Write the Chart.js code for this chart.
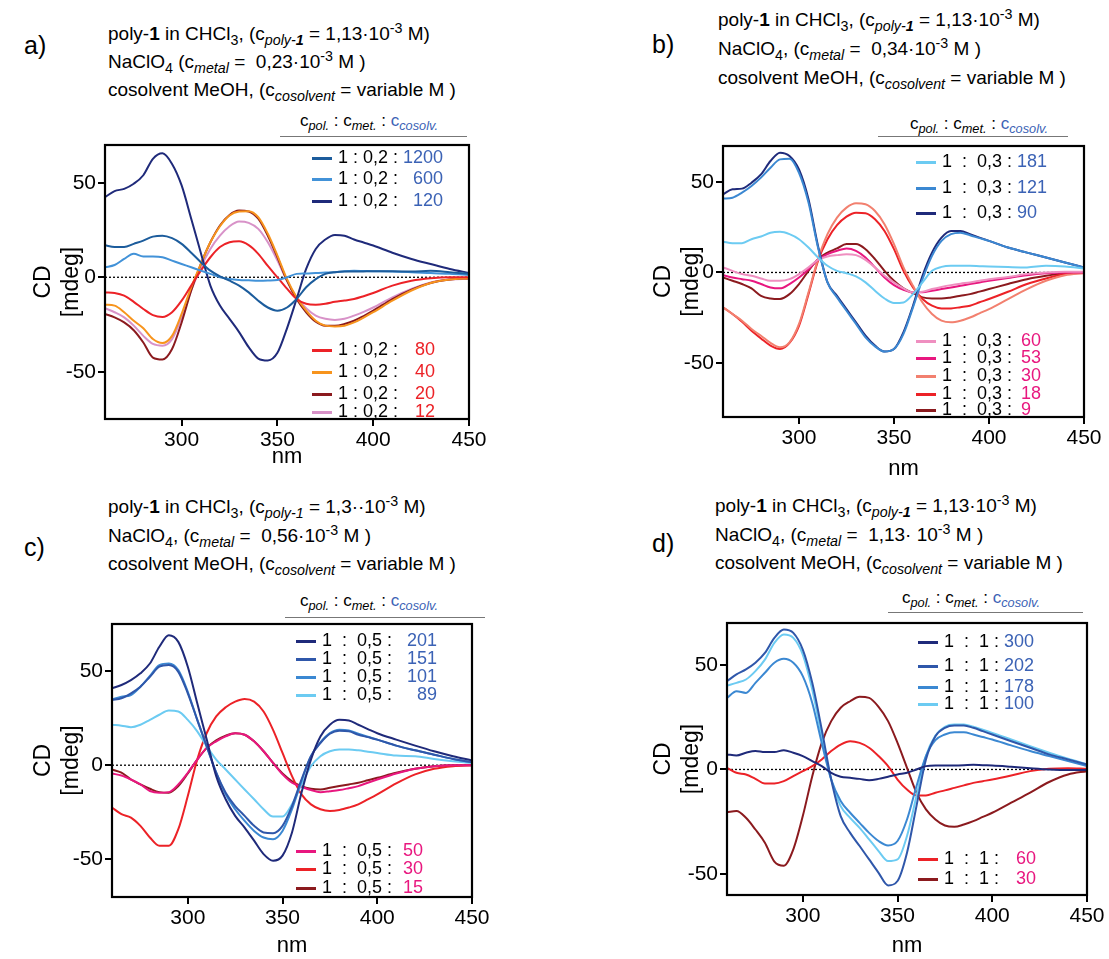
<!DOCTYPE html>
<html>
<head>
<meta charset="utf-8">
<script src="https://cdn.jsdelivr.net/npm/chart.js@4.4.1/dist/chart.umd.min.js"></script>
<style>
body { margin: 0; background: #fff; font-family: "Liberation Sans", Arial, sans-serif; color: #000; }
#page { position: relative; width: 1109px; height: 959px; overflow: hidden; }
canvas { position: absolute; }
.t { position: absolute; white-space: nowrap; font-size: 19px; line-height: 22px; }
.t sub, .t sup { font-size: 0.75em; line-height: 0; }
.lab { position: absolute; font-size: 25px; line-height: 28px; }
.rule { position: absolute; height: 0; border-top: 1.5px solid #777; }
.lg { position: absolute; font-size: 18px; white-space: nowrap; line-height: 18px; }
.lg i { display: inline-block; width: 20px; height: 2.5px; vertical-align: middle; margin-right: 6px; }
.lg span { display: inline-block; }
.blue { color: #3b62b5; }
</style>
</head>
<body>
<div id="page"></div>
<script>
// wavelength grid (nm), shared by all panels
const wl = [260,265,270,275,280,285,290,295,300,305,310,315,320,325,330,335,340,345,350,355,360,365,370,375,380,385,390,395,400,410,420,430,440,450];
const xTicks = [300, 350, 400, 450];
const yTicks = [-50, 0, 50];

// a) 1 : 0,2 : x
const aRatio = '1 : 0,2 :';
const aLabels = ['1200', '600', '120', '80', '40', '20', '12'];
const aColors = ['#1c5c9c', '#4292d8', '#1f2a7a', '#ec2227', '#f7941d', '#8b1a1e', '#d892c8'];
const a1200 = [17,16,16,17.7,19.4,21.5,22,20.7,17.7,13,8,3.5,0.5,-1.8,-4.4,-8,-12.4,-16,-17.7,-16,-11.5,-5.3,-1,1.8,2.7,3,3,3.1,3.2,3.2,3,3.4,2.7,1.8];
const a600 = [5.3,6.5,9.7,12.4,11,11,10.6,8.8,7,5.3,3.5,1.8,0,-0.9,-1.4,-1.6,-1.8,-1.7,-1.4,0,1.8,2,2.3,2.5,2.7,3.2,3.4,3.3,3.2,3,2.7,2.2,1.8,1.2];
const a120 = [42.4,45.6,46.8,49.5,54,62.7,65.6,60,48.6,31,13,-4.4,-15,-22,-29,-37,-43,-44,-40,-27,-11.5,4.4,15,20,22.4,22,20,18.4,16.8,13,9.7,7,4.4,2.3];
const a80 = [-8,-8.3,-9.7,-13,-16.8,-20,-21,-18.5,-12.4,-4.4,3.5,10.6,16,18.5,19,17,12.4,6,0,-6,-11.5,-14,-14.5,-14,-13,-12.3,-11.5,-10,-8.3,-4.4,-1.8,-0.5,0,0];
const a40 = [-14.5,-15,-18.5,-23,-27,-32.7,-34.8,-31,-19.4,-5.3,7,18.5,27,32.7,34.8,35,31.8,23,11.5,-1,-10.6,-17.7,-23,-25.6,-26,-25.6,-23.9,-21.3,-18.5,-12.4,-7,-3,-1.2,-0.5];
const a20 = [-19.4,-21.2,-23.9,-28,-34.5,-42.5,-43.5,-38,-23.9,-7,7,18.5,27.4,33,35.3,34.8,31,22,10.6,-1.8,-11.5,-18.5,-23.5,-25.6,-25.6,-24.7,-23,-20.5,-17.7,-11.5,-6.5,-3,-1.2,-0.5];
const a12 = [-16.4,-18.5,-21.2,-25.6,-31,-35.3,-36.2,-32.7,-21.2,-7,5.3,15,22,27,29.5,28.8,25.6,18.5,8.8,-1.8,-10.6,-16.4,-20.3,-22,-22.6,-22,-20.3,-18.3,-16,-10.6,-6.2,-2.7,-1.2,-0.9];

// b) 1 : 0,3 : x
const bRatio = '1 &nbsp;:&nbsp; 0,3 :';
const bLabels = ['181', '121', '90', '60', '53', '30', '18', '9'];
const bColors = ['#6ccbf2', '#3b88d2', '#1f2a7a', '#ef8fc0', '#e8177f', '#f2806f', '#ec2227', '#8b1a1e'];
const b181 = [17,16.2,16.2,18.4,19.9,22,22.5,21.2,18.4,13.8,8.3,3.7,0.9,-0.4,-2.2,-5.5,-10.1,-14.4,-16.9,-16.6,-12,-5.5,0.9,3.1,3.7,3.7,3.7,3.5,3.3,3,2.8,3.7,3.3,2.2];
const b121 = [40.9,41.4,44.2,47.9,52.5,58,62.6,63,55.2,38.7,13.8,-5.5,-13.8,-21.2,-28.5,-35.9,-40.9,-43.8,-42.4,-34,-19.3,-3.7,9.2,17.5,21.2,22,20.6,19,17.5,13.8,11,8.3,5.5,2.8];
const b90 = [43.3,46,46.4,49.7,54.3,61.7,66.3,64.5,57,40.5,14.7,-5.5,-12.9,-20.3,-27.6,-35,-40.5,-43.8,-42.4,-33,-18.4,-1.8,11,19.3,23,23,21.2,19.3,17.5,13.8,11,8.3,5.5,2.8];
const b60 = [2.8,0.9,-0.9,-1.8,-3.3,-4.6,-4.6,-3.7,-0.9,2.8,7,8.8,9.6,10.1,9.6,7,2.8,-1.8,-5.5,-8.8,-11,-10.7,-9.2,-8,-7,-6.2,-5.5,-4.6,-3.7,-2.5,-0.9,0,0.4,0.4];
const b53 = [-1.5,-2.8,-3.7,-4.6,-6.4,-8.3,-8.8,-6.4,-2.8,1.8,7,10.1,12,13.3,12,8.3,2.8,-2.8,-7,-9.6,-11,-11,-10.1,-9.2,-8.3,-7.4,-6.4,-5.5,-4.6,-3,-1.5,-0.5,0,0];
const b30 = [-19.3,-23,-26.7,-31.3,-35,-39,-41.4,-38.7,-28.5,-11,7.4,21.2,30.4,35.9,38.3,37.8,34,26.7,15.7,2.8,-7.4,-16.6,-23,-26.7,-27.6,-26.7,-24.9,-22.6,-20.3,-14.7,-9.2,-4.6,-1.5,-0.4];
const b18 = [-19.3,-23,-27.3,-32.2,-36.5,-40.5,-42.4,-39,-29.5,-12,6.4,18.4,26.2,30.9,33.1,32.8,29.5,23,12.9,0.9,-8.3,-14.7,-18.4,-19.9,-19.9,-19.2,-18.4,-16.5,-14.7,-10.7,-6.4,-3.3,-0.9,0];
const b9 = [-2.8,-4.6,-6.4,-8.8,-12.9,-14.4,-14.7,-12,-6.4,0.9,7.4,11,13.3,15.7,15.7,12.9,7.4,0.9,-4.6,-8.8,-11.4,-13.8,-14.4,-14.4,-13.8,-12.9,-12,-10.6,-9.2,-6.4,-3.7,-1.8,-0.4,0];

// c) 1 : 0,5 : x
const cRatio = '1 &nbsp;:&nbsp; 0,5 :';
const cLabels = ['201', '151', '101', '89', '50', '30', '15'];
const cColors = ['#1f2a7a', '#2f57aa', '#3b88d2', '#6ccbf2', '#e8177f', '#ec2227', '#8b1a1e'];
const c201 = [40.8,42.6,45.2,48.8,54,62.9,69,65.5,52.3,32.9,13.6,-5.8,-18.1,-26.9,-33.1,-40.1,-47.2,-50.7,-48,-35.7,-14.6,3,15.3,21.5,24.1,23.8,21.5,19.2,17,13.6,10.4,7.4,4.8,2.5];
const c151 = [34.7,35.6,38.2,41.7,47,52.3,53.2,49.6,38.2,24.1,10,-4,-14.6,-21.7,-26.9,-32.2,-35.7,-36.1,-32.2,-21.7,-7.6,4.8,11.8,16.7,18.3,18,16.2,14.9,13.6,10.4,7.9,5.6,3.3,1.6];
const c101 = [35,36.4,37.3,41.7,47.4,53.2,54,50.5,39,24.1,10,-4,-15.5,-23.4,-29.6,-34.9,-38.4,-39.3,-34.9,-23.4,-8.5,4.8,12.1,17,18.8,18.5,16.7,15.1,13.6,10.4,7.9,5.6,3.3,1.6];
const c89 = [21.5,21,20.2,21.5,24.1,26.8,29,28.5,24.1,18,10,3,-2.3,-7.6,-12.9,-18.1,-23.4,-27.3,-27.3,-20.8,-10.2,-0.5,4.8,7.4,8.3,8.3,7.9,7.2,6.5,5.1,4.8,3.3,2.1,1.2];
const c50 = [-4.4,-5.5,-7.6,-10.2,-13.7,-14.6,-14.3,-10.2,-4,3,9.2,12.7,15.3,17,16.2,12.7,7.4,1.2,-4.9,-9.3,-11.4,-13.2,-14.3,-13.8,-13.2,-12.2,-11.1,-9.3,-7.6,-4.4,-1.9,-0.5,0,0];
const c30 = [-22.5,-26,-27.8,-32.2,-38.4,-42.8,-42.8,-34,-16.4,3,17.1,25.9,30.8,33.8,35.2,33.8,28.5,18.8,6.5,-5.8,-15.5,-20.8,-23.4,-24.3,-23.8,-22.5,-20.8,-18.2,-15.5,-9.7,-4.9,-1.9,-0.5,0];
const c15 = [-2.3,-4,-7.6,-10.2,-12.5,-14.3,-14.6,-11.1,-4.4,3,9.2,13.2,15.7,17,16.2,12.7,7.4,1.2,-4.4,-8.5,-11.1,-12.5,-12.9,-12,-11.1,-10.2,-9.3,-8,-6.7,-4,-1.9,-0.5,0,0];

// d) 1 : 1 : x
const dRatio = '1 &nbsp;:&nbsp; 1 :';
const dLabels = ['300', '202', '178', '100', '60', '30'];
const dColors = ['#1f2a7a', '#2f57aa', '#3b88d2', '#6ccbf2', '#ec2227', '#8b1a1e'];
const d300 = [7.2,6.7,8,8.8,8.3,8.3,9.2,8,6.4,4,1.6,-1.6,-3.5,-4,-4.5,-5.1,-4.5,-3.5,-2.4,-1.6,0,1.6,1.9,1.9,1.9,2,2.2,2,1.9,1.3,0.6,0,-0.3,-0.3];
const d202 = [42.2,45.4,47.8,51,55.7,62.9,66.9,65.3,57.3,41.4,19.1,-4.8,-22.3,-30.3,-36.6,-43,-49.4,-55.4,-53.3,-39.8,-17.5,4.8,15.9,19.9,21,21,19.9,18.3,16.7,13.5,10.4,7.2,4.8,2.4];
const d178 = [34.2,37.4,36.6,41.4,46.2,51,52.9,51,44.6,31.8,12.7,-4.8,-15.1,-20.7,-25.5,-30.3,-34.2,-36.3,-34.2,-23.9,-8,6.4,14,16.7,17.8,17.8,16.7,15.5,14.3,11.5,8.8,6.4,4,1.6];
const d100 = [40.1,41.4,43,47,52.5,60.5,64.5,62.9,54.9,38.2,15.9,-4.8,-17.5,-23.1,-27.9,-33.4,-39,-43.8,-43,-31.8,-12.7,6.4,16.2,20.4,21.5,21.5,20.4,19,17.5,14.3,11.1,8,5.1,2.4];
const d60 = [0.8,-1.6,-2.4,-4.5,-6.7,-6.7,-5.6,-3.2,-0.8,1.6,4.8,8.8,11.9,13.5,12.7,10.4,6.4,1.6,-4.8,-9.6,-12.4,-12.4,-11.1,-10,-8.8,-7.6,-6.4,-5.6,-4.8,-2.9,-0.8,0.3,0.6,0.3];
const d30 = [-20.4,-19.9,-23.1,-28.7,-35,-44,-46,-38.2,-22.3,-3.2,12.7,23.1,29.5,32.6,34.7,34.2,29.9,23.1,12.7,0.8,-11.1,-19.1,-23.9,-26.8,-27.4,-26.3,-24.7,-22.7,-20.7,-15.9,-11.1,-6,-2.4,-0.8];

const page = document.getElementById('page');

function add(cls, left, top, html, extra) {
  const d = document.createElement('div');
  d.className = cls;
  d.style.left = left + 'px';
  d.style.top = top + 'px';
  if (extra) d.style.cssText += extra;
  d.innerHTML = html;
  page.appendChild(d);
  return d;
}

const ratioHead = 'c<sub><i>pol.</i></sub> : c<sub><i>met.</i></sub> : <span class="blue">c<sub><i>cosolv.</i></sub></span>';
const cosolv = 'cosolvent MeOH, (c<sub><i>cosolvent</i></sub> = variable M )';

// headers
add('lab', 24, 31, 'a)');
add('t', 108, 23, 'poly-<b>1</b> in CHCl<sub>3</sub>, (c<sub><i>poly-<b>1</b></i></sub> = 1,13·10<sup>-3</sup> M)');
add('t', 108, 51, 'NaClO<sub>4</sub> (c<sub><i>metal</i></sub> = &nbsp;0,23·10<sup>-3</sup> M )');
add('t', 108, 79, cosolv);
add('t', 300, 110, ratioHead, 'font-size:17px');
add('rule', 280, 136, '', 'width:187px');

add('lab', 652, 30, 'b)');
add('t', 718, 9, 'poly-<b>1</b> in CHCl<sub>3</sub>, (c<sub><i>poly-<b>1</b></i></sub> = 1,13·10<sup>-3</sup> M)');
add('t', 718, 38, 'NaClO<sub>4</sub>, (c<sub><i>metal</i></sub> = &nbsp;0,34·10<sup>-3</sup> M )');
add('t', 718, 67, cosolv);
add('t', 910, 113, ratioHead, 'font-size:17px');
add('rule', 878, 136, '', 'width:190px');

add('lab', 24, 533, 'c)');
add('t', 108, 496, 'poly-<b>1</b> in CHCl<sub>3</sub>, (c<sub><i>poly-1</i></sub> = 1,3··10<sup>-3</sup> M)');
add('t', 108, 525, 'NaClO<sub>4</sub>, (c<sub><i>metal</i></sub> = &nbsp;0,56·10<sup>-3</sup> M )');
add('t', 108, 553, cosolv);
add('t', 300, 590, ratioHead, 'font-size:17px');
add('rule', 285, 617, '', 'width:200px');

add('lab', 652, 529, 'd)');
add('t', 715, 495, 'poly-<b>1</b> in CHCl<sub>3</sub>, (c<sub><i>poly-<b>1</b></i></sub> = 1,13·10<sup>-3</sup> M)');
add('t', 715, 524, 'NaClO<sub>4</sub>, (c<sub><i>metal</i></sub> = &nbsp;1,13· 10<sup>-3</sup> M )');
add('t', 715, 552, cosolv);
add('t', 902, 587, ratioHead, 'font-size:17px');
add('rule', 888, 612, '', 'width:195px');

// frame + dotted zero line
const framePlugin = {
  id: 'frame',
  beforeDatasetsDraw(chart) {
    const { ctx, chartArea: a, scales } = chart;
    const y0 = scales.y.getPixelForValue(0);
    ctx.save();
    ctx.strokeStyle = '#000';
    ctx.lineWidth = 1.3;
    ctx.setLineDash([2, 2]);
    ctx.beginPath();
    ctx.moveTo(a.left, y0);
    ctx.lineTo(a.right, y0);
    ctx.stroke();
    ctx.restore();
  },
  afterDraw(chart) {
    const { ctx, chartArea: a } = chart;
    ctx.save();
    ctx.strokeStyle = '#000';
    ctx.lineWidth = 2.2;
    ctx.strokeRect(a.left, a.top, a.right - a.left, a.bottom - a.top);
    ctx.restore();
  }
};

const panels = [
  { box: [0, 120, 520, 350], area: [105, 145, 469, 419], ymin: -75, ymax: 70,
    ratio: aRatio, labels: aLabels, colors: aColors, numColor: '#ec2227',
    series: [a1200, a600, a120, a80, a40, a20, a12],
    legend: { x: 312, numW: 40, topAlign: 'right', gap: 12, rows: [148, 169, 191, 340, 362, 384, 402], split: 3 } },
  { box: [620, 120, 489, 362], area: [723, 146, 1084, 417], ymin: -80, ymax: 70,
    ratio: bRatio, labels: bLabels, colors: bColors, numColor: '#e8177f',
    series: [b181, b121, b90, b60, b53, b30, b18, b9],
    legend: { x: 916, numW: 36, topAlign: 'left', gap: 4, rows: [152, 178, 203, 331, 348, 366, 384, 400], split: 3 } },
  { box: [0, 600, 520, 359], area: [112, 624, 472, 897], ymin: -70, ymax: 75,
    ratio: cRatio, labels: cLabels, colors: cColors, numColor: '#e8177f',
    series: [c201, c151, c101, c89, c50, c30, c15],
    legend: { x: 296, numW: 40, topAlign: 'right', gap: 6, rows: [631, 649, 667, 685, 841, 859, 878], split: 4 } },
  { box: [620, 600, 489, 359], area: [727, 623, 1087, 895], ymin: -60, ymax: 70,
    ratio: dRatio, labels: dLabels, colors: dColors, numColor: '#e8177f',
    series: [d300, d202, d178, d100, d60, d30],
    legend: { x: 918, numW: 40, topAlign: 'left', gap: 12, rows: [632, 656, 677, 694, 849, 869], split: 4 } }
];

panels.forEach(p => {
  const [L, T, W, H] = p.box;
  const [al, at, ar, ab] = p.area;
  const cv = document.createElement('canvas');
  cv.width = W; cv.height = H;
  cv.style.left = L + 'px'; cv.style.top = T + 'px';
  cv.style.width = W + 'px'; cv.style.height = H + 'px';
  page.appendChild(cv);

  const tickFont = { family: '"Liberation Sans", Arial, sans-serif', size: 21 };
  new Chart(cv.getContext('2d'), {
    type: 'line',
    data: {
      datasets: p.series.map((s, i) => ({
        label: p.labels[i],
        data: wl.map((x, k) => ({ x: x, y: s[k] })),
        borderColor: p.colors[i],
        borderWidth: 2,
        pointRadius: 0,
        fill: false,
        cubicInterpolationMode: 'monotone'
      }))
    },
    options: {
      responsive: false,
      animation: false,
      devicePixelRatio: 1,
      layout: { padding: { top: at - T, right: L + W - ar, left: 0, bottom: 0 } },
      plugins: { legend: { display: false }, tooltip: { enabled: false } },
      scales: {
        x: {
          type: 'linear', min: 260, max: 450,
          afterBuildTicks: sc => { sc.ticks = xTicks.map(v => ({ value: v })); },
          afterFit: sc => { sc.height = T + H - ab; },
          grid: { drawOnChartArea: false, color: '#000', lineWidth: 2, tickLength: 7 },
          border: { color: '#000', width: 2 },
          ticks: { color: '#000', font: tickFont, padding: 2, maxRotation: 0 },
          title: { display: true, text: 'nm', color: '#000', font: { family: tickFont.family, size: 22 }, padding: { top: 0, bottom: 0 } }
        },
        y: {
          type: 'linear', min: p.ymin, max: p.ymax,
          afterBuildTicks: sc => { sc.ticks = yTicks.map(v => ({ value: v })); },
          afterFit: sc => { sc.width = al - L; },
          grid: { drawOnChartArea: false, color: '#000', lineWidth: 2, tickLength: 7 },
          border: { color: '#000', width: 2 },
          ticks: { color: '#000', font: tickFont, padding: 2 },
          title: { display: true, text: ['CD', '[mdeg]'], color: '#000', font: { family: tickFont.family, size: 23 }, padding: { top: 30, bottom: 0 } }
        }
      }
    },
    plugins: [framePlugin]
  });

  // legend overlay in the plot
  const lg = p.legend;
  p.labels.forEach((lab, i) => {
    const top = i < lg.split;
    const col = top ? '#3b62b5' : p.numColor;
    const style = top
      ? 'width:' + lg.numW + 'px;text-align:' + lg.topAlign
      : 'padding-left:' + lg.gap + 'px';
    add('lg', lg.x, lg.rows[i],
      '<i style="background:' + p.colors[i] + '"></i>' + p.ratio +
      ' <span style="color:' + col + ';' + style + '">' + lab + '</span>');
  });
});
</script>
</body>
</html>
